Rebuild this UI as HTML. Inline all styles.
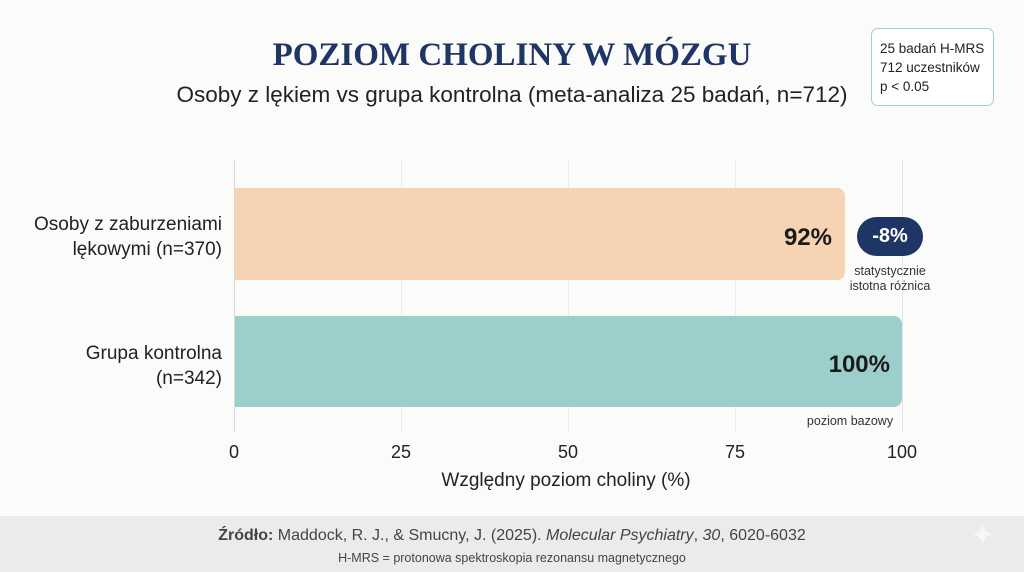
<!DOCTYPE html><html><head><meta charset="utf-8"><style>
body{margin:0;width:1024px;height:572px;background:#fbfbf9;position:relative;overflow:hidden;font-family:"Liberation Sans",sans-serif;color:#222}
div{position:absolute}
.t{white-space:nowrap}
</style></head><body>
<div class="t" style="left:0;width:1024px;top:37px;text-align:center;font-family:'Liberation Serif',serif;font-weight:bold;font-size:33px;color:#1f3566">POZIOM CHOLINY W MÓZGU</div>
<div class="t" style="left:0;width:1024px;top:82px;text-align:center;font-size:22.5px;color:#222">Osoby z lękiem vs grupa kontrolna (meta-analiza 25 badań, n=712)</div>
<div style="left:871px;top:28px;width:123px;height:78px;border:1.5px solid #9fd0cf;border-radius:7px;background:#fff;font-size:13.5px;line-height:19px;padding:10px 0 0 8px;box-sizing:border-box">25 badań H-MRS<br>712 uczestników<br>p &lt; 0.05</div>
<div style="left:234px;top:160px;width:1px;height:272px;background:#d8d8d8"></div>
<div style="left:401px;top:160px;width:1px;height:272px;background:#ececec"></div>
<div style="left:568px;top:160px;width:1px;height:272px;background:#ececec"></div>
<div style="left:735px;top:160px;width:1px;height:272px;background:#ececec"></div>
<div style="left:902px;top:160px;width:1px;height:272px;background:#e2e6ea"></div>
<div style="left:235px;top:188px;width:610px;height:92px;background:#f6d3b3;border-radius:0 8px 8px 0"></div>
<div style="left:235px;top:316px;width:667px;height:91px;background:#9ccfcc;border-radius:0 8px 8px 0"></div>
<div class="t" style="left:740px;width:92px;text-align:right;top:224px;font-size:24px;font-weight:bold;color:#1a1a1a">92%</div>
<div class="t" style="left:790px;width:100px;text-align:right;top:351px;font-size:24px;font-weight:bold;color:#1a1a1a">100%</div>
<div style="left:857px;top:217px;width:66px;height:39px;border-radius:20px;background:#1f3566;color:#fff;font-size:20px;font-weight:bold;text-align:center;line-height:39px">-8%</div>
<div class="t" style="left:830px;width:120px;text-align:center;top:264px;font-size:12.5px;line-height:15px;color:#333">statystycznie<br>istotna różnica</div>
<div class="t" style="left:790px;width:120px;text-align:center;top:414px;font-size:12.5px;color:#333">poziom bazowy</div>
<div class="t" style="left:0;width:222px;text-align:right;top:212px;font-size:19px;line-height:25px">Osoby z zaburzeniami<br>lękowymi (n=370)</div>
<div class="t" style="left:0;width:222px;text-align:right;top:341px;font-size:19px;line-height:25px">Grupa kontrolna<br>(n=342)</div>
<div class="t" style="left:214px;width:40px;text-align:center;top:442px;font-size:18px">0</div>
<div class="t" style="left:381px;width:40px;text-align:center;top:442px;font-size:18px">25</div>
<div class="t" style="left:548px;width:40px;text-align:center;top:442px;font-size:18px">50</div>
<div class="t" style="left:715px;width:40px;text-align:center;top:442px;font-size:18px">75</div>
<div class="t" style="left:877px;width:50px;text-align:center;top:442px;font-size:18px">100</div>
<div class="t" style="left:366px;width:400px;text-align:center;top:470px;font-size:19px">Względny poziom choliny (%)</div>
<div style="left:0;top:516px;width:1024px;height:56px;background:#ebebea"></div>
<div class="t" style="left:0;width:1024px;text-align:center;top:527px;font-size:16px;color:#444"><b>Źródło:</b> Maddock, R. J., &amp; Smucny, J. (2025). <i>Molecular Psychiatry</i>, <i>30</i>, 6020-6032</div>
<div class="t" style="left:0;width:1024px;text-align:center;top:551px;font-size:12.5px;color:#444">H-MRS = protonowa spektroskopia rezonansu magnetycznego</div>
<div class="t" style="left:970px;top:518px;font-size:30px;color:#f7f7f7">✦</div>
</body></html>
